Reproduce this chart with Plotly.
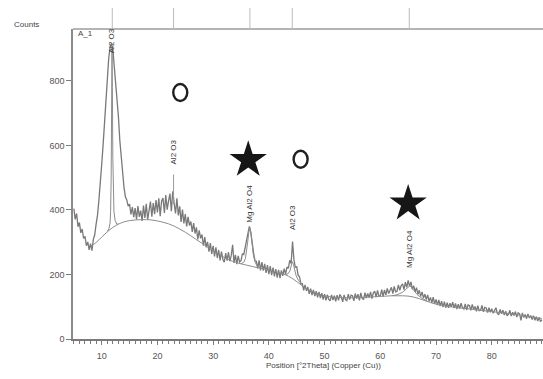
import plotly.graph_objects as go

# ---- measured scan: counts every 0.25 deg 2Theta starting at 5.0 ----
scan_start = 5.0
scan_step = 0.25
counts = [
    404, 371, 389, 348,   361, 329, 341, 312,   318, 289, 301, 276,   296, 274, 309, 323,
    356, 384, 431, 476,   541, 601, 678, 755,   824, 868, 904, 916,   898, 851, 803, 755,
    690, 616, 559, 501,   471, 441, 431, 412,   418, 386, 409, 378,   406, 371, 412, 379,
    398, 366, 414, 375,   419, 371, 408, 426,   379, 421, 387, 431,   392, 436, 381, 428,
    437, 391, 446, 401,   428, 451, 396, 458,   421, 389, 436, 383,   411, 363, 401, 358,
    387, 349, 379, 352,   364, 332, 359, 327,   346, 309, 337, 312,   324, 289, 316, 284,
    301, 271, 297, 264,   289, 256, 284, 251,   276, 244, 271, 246,   238, 266, 243, 269,
    241, 259, 292, 236,   261, 232, 258, 239,   243, 264, 262, 287,   304, 326, 349, 331,
    292, 268, 243, 241,   219, 244, 213, 238,   212, 233, 205, 229,   201, 226, 198, 221,
    194, 217, 190, 214,   189, 213, 196, 218,   201, 223, 219, 244,   234, 302, 246, 222,
    224, 198, 193, 171,   172, 151, 168, 149,   161, 140, 156, 136,   152, 133, 148, 129,
    146, 127, 142, 122,   139, 120, 137, 123,   118, 137, 121, 134,   117, 136, 120, 138,
    131, 115, 137, 122,   119, 139, 122, 136,   134, 118, 141, 125,   139, 120, 143, 126,
    122, 144, 127, 141,   128, 146, 125, 143,   148, 130, 151, 133,   134, 153, 131, 152,
    137, 157, 141, 154,   160, 141, 163, 146,   148, 168, 151, 166,   171, 153, 176, 160,
    182, 163, 177, 154,   165, 146, 159, 139,   151, 132, 146, 127,   139, 122, 137, 117,
    129, 112, 130, 109,   123, 105, 121, 102,   117, 99, 116, 97,    113, 97, 111, 100,
    114, 96, 110, 93,     108, 94, 111, 97,    93, 109, 90, 106,    104, 89, 107, 92,
    101, 86, 103, 88,     89, 104, 84, 98,     96, 82, 97, 83,      94, 80, 91, 97,
    80, 75, 92, 78,       89, 74, 86, 72,      77, 89, 71, 83,      73, 85, 68, 81,
    78, 58, 81, 67,       76, 63, 78, 65,      73, 60, 72, 58,      69, 56, 67, 54,
    60,
]
two_theta = [scan_start + i * scan_step for i in range(len(counts))]

# ---- fitted background (1 deg steps) ----
bg_theta = list(range(8, 90))
bg_counts = [
    287, 299, 316, 332, 346, 356, 363, 367, 369, 370,
    370, 369, 366, 362, 357, 350, 341, 331, 320, 308,
    297, 285, 274, 263, 253, 244, 238, 233, 229, 225,
    221, 218, 214, 210, 205, 199, 190, 178, 165, 154,
    146, 139, 134, 131, 129, 128, 128, 128, 128, 129,
    130, 131, 132, 133, 134, 134, 134, 133, 130, 125,
    119, 113, 108, 104, 101, 99, 97, 95, 93, 91,
    89, 87, 85, 83, 81, 79, 76, 74, 71, 69,
    66, 64,
]

# ---- calculated profile around the fitted reflections ----
fit1_theta = [11.0, 11.3, 11.5, 11.6, 11.7, 11.78, 11.85, 11.92, 12.0, 12.1, 12.2, 12.4, 12.7, 13.0]
fit1_counts = [334, 342, 360, 395, 500, 720, 905, 780, 560, 440, 395, 368, 356, 357]
fit2_theta = [35.0, 35.5, 35.8, 36.0, 36.2, 36.4, 36.6, 36.8, 37.0, 37.2, 37.5, 37.8, 38.2]
fit2_counts = [233, 238, 250, 270, 300, 332, 345, 328, 292, 262, 240, 229, 221]
fit3_theta = [43.0, 43.5, 43.8, 44.0, 44.2, 44.4, 44.6, 44.9, 45.3, 45.8]
fit3_counts = [199, 203, 212, 228, 240, 232, 214, 196, 182, 172]
fit4_theta = [62.0, 63.0, 64.0, 64.6, 65.0, 65.3, 65.6, 66.0, 66.6, 67.5, 68.5]
fit4_counts = [134, 137, 145, 155, 162, 165, 160, 150, 138, 126, 117]

# ---- identified reflections ----
peak_pos = [11.9, 22.9, 36.6, 44.2, 65.2]
peak_phase = ["Al2 O3", "Al2 O3", "Mg Al2 O4", "Al2 O3", "Mg Al2 O4"]
label_height = [924, 580, 419, 376, 280]

# reference stick below the 22.9 deg label
stick_pos = [22.9]
stick_top = [510]
stick_base = [418]

# phase symbols: star = Mg Al2 O4, ring = Al2 O3
star_x = [36.3, 65.0]
star_y = [555, 420]
ring_x = [24.1, 45.7]
ring_y = [764, 557]

X_RANGE = [4.85, 89.2]
Y_RANGE = [0, 961]
FONT = "Liberation Sans, Arial, sans-serif"
AXIS_GREY = "#7a7a7a"

fig = go.Figure()

fig.add_trace(go.Scatter(x=two_theta, y=counts, mode="lines",
                         line=dict(color="#797979", width=1.3), hoverinfo="skip"))
fig.add_trace(go.Scatter(x=bg_theta, y=bg_counts, mode="lines", line_shape="spline",
                         line=dict(color="#8c8c8c", width=1), hoverinfo="skip"))
for fx, fy in [(fit1_theta, fit1_counts), (fit2_theta, fit2_counts),
               (fit3_theta, fit3_counts), (fit4_theta, fit4_counts)]:
    fig.add_trace(go.Scatter(x=fx, y=fy, mode="lines",
                             line=dict(color="#8c8c8c", width=1), hoverinfo="skip"))

for sx, st, sb in zip(stick_pos, stick_top, stick_base):
    fig.add_trace(go.Scatter(x=[sx, sx], y=[sb, st], mode="lines",
                             line=dict(color="#9a9a9a", width=1), hoverinfo="skip"))

fig.add_trace(go.Scatter(x=star_x, y=star_y, mode="markers", cliponaxis=False,
                         marker=dict(symbol="star", size=28, color="#161616",
                                     line=dict(width=0)),
                         hoverinfo="skip"))

shapes = []
# top frame line
shapes.append(dict(type="line", xref="paper", yref="paper", x0=0, x1=1, y0=1, y1=1,
                   line=dict(color="#b4b4b4", width=2)))
# reference position lines above the frame
for p in peak_pos:
    shapes.append(dict(type="line", xref="x", yref="paper", x0=p, x1=p, y0=1, y1=1.0677,
                       line=dict(color="#bcbcbc", width=1)))
# ring symbols
for rx, ry in zip(ring_x, ring_y):
    shapes.append(dict(type="circle", xref="x", yref="y", xsizemode="pixel",
                       ysizemode="pixel", xanchor=rx, yanchor=ry,
                       x0=-7, x1=7, y0=-8.5, y1=8.5,
                       line=dict(color="#202020", width=2.4)))

annotations = []
for p, name, h in zip(peak_pos, peak_phase, label_height):
    annotations.append(dict(x=p, y=h, xref="x", yref="y", text=name, textangle=-90,
                            showarrow=False, font=dict(family=FONT, size=8, color="#333"),
                            xanchor="center", yanchor="middle"))
annotations.append(dict(x=-0.098, y=1.016, xref="paper", yref="paper", text="Counts",
                        showarrow=False, font=dict(family=FONT, size=8, color="#444"),
                        xanchor="center", yanchor="middle"))
annotations.append(dict(x=0.006, y=0.984, xref="paper", yref="paper", text="A_1",
                        showarrow=False, font=dict(family=FONT, size=8, color="#444"),
                        xanchor="left", yanchor="middle"))
annotations.append(dict(x=0.532, y=-0.086, xref="paper", yref="paper",
                        text="Position [°2Theta] (Copper (Cu))",
                        showarrow=False, font=dict(family=FONT, size=8, color="#444"),
                        xanchor="center", yanchor="middle"))

fig.update_layout(
    width=543, height=379,
    margin=dict(l=73, r=0, t=29, b=40),
    paper_bgcolor="white", plot_bgcolor="white",
    showlegend=False,
    font=dict(family=FONT, size=9, color="#555"),
    shapes=shapes, annotations=annotations,
    xaxis=dict(range=X_RANGE, tickvals=[10, 20, 30, 40, 50, 60, 70, 80],
               showgrid=False, zeroline=False, showline=True,
               linecolor=AXIS_GREY, linewidth=2,
               ticks="outside", ticklen=4, tickcolor=AXIS_GREY, tickwidth=1,
               ticklabelstandoff=3,
               minor=dict(dtick=1, tick0=0, ticks="outside", ticklen=3,
                          tickcolor=AXIS_GREY, tickwidth=1),
               tickfont=dict(family=FONT, size=9, color="#555")),
    yaxis=dict(range=Y_RANGE, tickvals=[0, 200, 400, 600, 800],
               showgrid=False, zeroline=False, showline=True,
               linecolor="#8a8a8a", linewidth=1.5,
               ticks="outside", ticklen=5, tickcolor=AXIS_GREY, tickwidth=1,
               tickfont=dict(family=FONT, size=9, color="#555")),
)

fig.write_html("out.html")
